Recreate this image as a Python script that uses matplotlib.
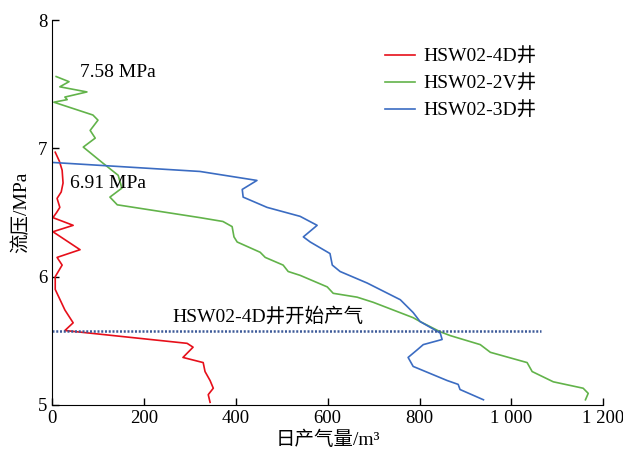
import numpy as np
import matplotlib
matplotlib.use("Agg")
import matplotlib.pyplot as plt
from matplotlib.ticker import FuncFormatter

plt.rcParams['font.family'] = ['Liberation Serif', 'Noto Sans CJK SC']
plt.rcParams['axes.unicode_minus'] = False

# HSW02-4D well (red)
x_4d = [7, 16, 22, 24, 20, 11, 17, 10, 2, 46, 2, 61, 11, 22, 7, 7, 28, 46, 28,
        294, 307, 285, 329, 333, 344, 351, 340, 344]
y_4d = [6.97, 6.90, 6.83, 6.73, 6.66, 6.61, 6.54, 6.50, 6.46, 6.40, 6.35, 6.21, 6.15, 6.09, 6.00, 5.90, 5.74, 5.64, 5.58,
        5.48, 5.45, 5.37, 5.33, 5.26, 5.19, 5.13, 5.08, 5.02]

# HSW02-2V well (green)
x_2v = [9, 37, 17, 76, 28, 33, 4, 89, 100, 83, 94, 68, 109, 144, 152, 126, 142, 322,
        372, 392, 396, 403, 453, 464, 503, 514, 540, 599, 612, 664, 699, 786,
        801, 845, 867, 932, 954, 1034, 1045, 1091, 1156, 1167, 1161]
y_2v = [7.56, 7.52, 7.48, 7.44, 7.40, 7.38, 7.36, 7.26, 7.22, 7.14, 7.08, 7.01, 6.89, 6.79, 6.69, 6.62, 6.56, 6.46,
        6.43, 6.39, 6.31, 6.27, 6.19, 6.15, 6.09, 6.04, 6.01, 5.92, 5.87, 5.84, 5.80, 5.68,
        5.65, 5.57, 5.54, 5.47, 5.41, 5.33, 5.26, 5.18, 5.13, 5.09, 5.04]

# HSW02-3D well (blue)
x_3d = [2, 322, 446, 414, 416, 468, 540, 577, 547, 562, 605, 610, 627, 686, 758, 786,
        801, 845, 849, 808, 795, 775, 786, 860, 884, 888, 939]
y_3d = [6.89, 6.82, 6.75, 6.68, 6.62, 6.54, 6.47, 6.40, 6.31, 6.27, 6.18, 6.09, 6.04, 5.95, 5.82, 5.72,
        5.65, 5.56, 5.51, 5.47, 5.43, 5.37, 5.30, 5.19, 5.16, 5.12, 5.04]

# start of production line
start_x = [0, 1065]
start_y = [5.58, 5.58]

fig = plt.figure(figsize=(6.23, 4.57), dpi=100)
ax = fig.add_axes([0.0835, 0.114, 0.885, 0.842])

ax.plot(x_4d, y_4d, color='#e60f1a', lw=1.2, label='HSW02-4D井')
ax.plot(x_2v, y_2v, color='#62b34a', lw=1.2, label='HSW02-2V井')
ax.plot(x_3d, y_3d, color='#3b6cc2', lw=1.2, label='HSW02-3D井')
ax.plot(start_x, start_y, color='#3d5a99', lw=1.8, ls=(0, (0.8, 0.7)))

ax.text(61, 7.59, '7.58 MPa', fontsize=14, va='center')
ax.text(39, 6.73, '6.91 MPa', fontsize=14, va='center')
ax.text(470, 5.69, 'HSW02-4D井开始产气', fontsize=14, ha='center', va='center')

ax.set_xlim(0, 1200)
ax.set_ylim(5, 8)
ax.set_xticks(np.arange(0, 1201, 200))
ax.set_yticks([5, 6, 7, 8])
ax.xaxis.set_major_formatter(FuncFormatter(lambda v, p: f'{int(v):,}'.replace(',', ' ')))
ax.tick_params(direction='in', labelsize=13.5, length=5, width=1)
ax.spines['top'].set_visible(False)
ax.spines['right'].set_visible(False)

ax.set_xlabel('日产气量/m³', fontsize=14, labelpad=3)
ax.set_ylabel('流压/MPa', fontsize=14, labelpad=5)

leg = ax.legend(loc='upper left', bbox_to_anchor=(0.604, 0.927), frameon=False,
                borderaxespad=0, borderpad=0, fontsize=14, handlelength=1.55,
                handletextpad=0.4, labelspacing=0.45)

fig.savefig('out.png', dpi=100)
